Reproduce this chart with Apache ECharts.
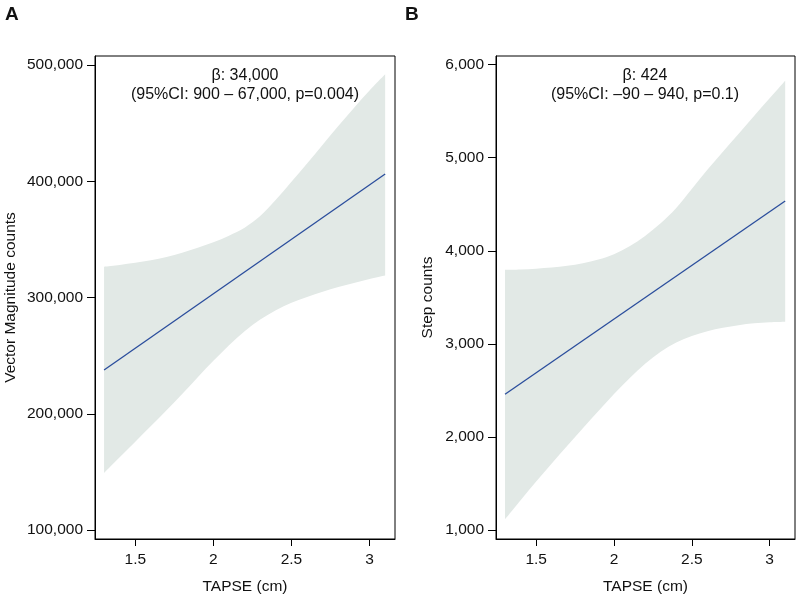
<!DOCTYPE html>
<html>
<head>
<meta charset="utf-8">
<script src="https://cdn.jsdelivr.net/npm/echarts@6/dist/echarts.min.js"></script>
<style>html,body{margin:0;padding:0;background:#fff}#c{width:796px;height:594px}</style>
</head>
<body>
<div id="c"></div>
<script>
// ---- Data ----
const xGrid = [1.3,1.4,1.5,1.6,1.7,1.8,1.9,2.0,2.1,2.2,2.3,2.4,2.5,2.6,2.7,2.8,2.9,3.0,3.1];

// Panel A: Vector Magnitude counts
const upperA = [326500,328000,329800,332000,334800,338500,342800,347500,353200,360000,370000,384000,399500,415300,431500,447500,463000,478000,492000];
const lowerA = [149000,162500,176000,189500,203000,217000,231500,245500,259000,271000,281000,289000,295500,300500,305000,309000,312500,316000,319000];
const lineXA = [1.3, 3.1];
const lineYA = [237600, 406200];

// Panel B: Step counts
const upperB = [3795,3800,3808,3820,3838,3865,3905,3962,4048,4160,4295,4460,4665,4870,5065,5255,5447,5638,5828];
const lowerB = [1115,1320,1520,1715,1905,2093,2278,2460,2630,2785,2915,3015,3085,3135,3172,3200,3220,3232,3238];
const lineXB = [1.3, 3.1];
const lineYB = [2458, 4535];

const xTicks = [1.5, 2, 2.5, 3];
const yTicksA = [100000, 200000, 300000, 400000, 500000];
const yTicksB = [1000, 2000, 3000, 4000, 5000, 6000];

const annotA = ['β: 34,000', '(95%CI: 900 – 67,000, p=0.004)'];
const annotB = ['β: 424', '(95%CI: –90 – 940, p=0.1)'];

// ---- Chart ----
const FONT = '"Liberation Sans", Arial, Helvetica, sans-serif';
const BAND = '#e2e9e6';
const LINE = '#2a4d9c';
const TXT = '#111';
const fmt = v => Number(v).toLocaleString('en-US');

function bandData(up, lo) { return xGrid.map((x, i) => [x, lo[i], up[i]]); }

// Catmull-Rom through pixel points -> cubic bezier path commands
function smoothSeg(pts) {
  let d = '';
  const n = pts.length;
  for (let i = 0; i < n - 1; i++) {
    const p0 = pts[Math.max(0, i - 1)], p1 = pts[i], p2 = pts[i + 1], p3 = pts[Math.min(n - 1, i + 2)];
    const c1 = [p1[0] + (p2[0] - p0[0]) / 6, p1[1] + (p2[1] - p0[1]) / 6];
    const c2 = [p2[0] - (p3[0] - p1[0]) / 6, p2[1] - (p3[1] - p1[1]) / 6];
    d += ' C' + c1[0] + ' ' + c1[1] + ' ' + c2[0] + ' ' + c2[1] + ' ' + p2[0] + ' ' + p2[1];
  }
  return d;
}

function bandRender(up, lo) {
  return function (params, api) {
    if (params.dataIndex !== 0) return null;
    const top = xGrid.map((x, i) => api.coord([x, up[i]]));
    const bot = xGrid.map((x, i) => api.coord([x, lo[i]])).reverse();
    let d = 'M' + top[0][0] + ' ' + top[0][1] + smoothSeg(top);
    d += ' L' + bot[0][0] + ' ' + bot[0][1] + smoothSeg(bot) + ' Z';
    return { type: 'path', shape: { pathData: d }, style: { fill: BAND, stroke: null } };
  };
}

function xAxisCfg(gi) {
  return {
    type: 'value', gridIndex: gi, min: 1.242, max: 3.163,
    name: 'TAPSE (cm)', nameLocation: 'middle', nameGap: 40,
    nameTextStyle: { fontFamily: FONT, fontSize: 15.5, color: TXT },
    axisLine: { show: true, onZero: false, lineStyle: { color: '#000', width: 1 } },
    axisTick: { show: true, length: 7, customValues: xTicks, lineStyle: { color: '#000' } },
    axisLabel: { customValues: xTicks, fontFamily: FONT, fontSize: 15.5, color: TXT, margin: 13, formatter: v => String(v) },
    splitLine: { show: false }
  };
}

function yAxisCfg(gi, min, max, ticks, name, gap) {
  return {
    type: 'value', gridIndex: gi, min: min, max: max,
    name: name, nameLocation: 'middle', nameGap: gap,
    nameTextStyle: { fontFamily: FONT, fontSize: 15.5, color: TXT },
    axisLine: { show: true, onZero: false, lineStyle: { color: '#000', width: 1 } },
    axisTick: { show: true, length: 8, customValues: ticks, lineStyle: { color: '#000' } },
    axisLabel: { customValues: ticks, fontFamily: FONT, fontSize: 15.5, color: TXT, margin: 12, formatter: fmt },
    splitLine: { show: false }
  };
}

function textEl(txt, x, y, size, weight) {
  return { type: 'text', left: x, top: y, style: { text: txt, fontFamily: FONT, fontSize: size, fontWeight: weight || 'normal', fill: TXT } };
}
function centerText(txt, cx, y) {
  return { type: 'text', x: cx, y: y, style: { text: txt, fontFamily: FONT, fontSize: 16, fill: TXT, align: 'center', verticalAlign: 'middle' } };
}

const chart = echarts.init(document.getElementById('c'), null, { renderer: 'canvas' });
chart.setOption({
  animation: false,
  backgroundColor: '#fff',
  grid: [
    { left: 95, right: 401, top: 56, bottom: 55, show: true, borderColor: '#000', borderWidth: 1, backgroundColor: 'transparent', outerBoundsMode: 'none', containLabel: false },
    { left: 496, right: 1, top: 56, bottom: 55, show: true, borderColor: '#000', borderWidth: 1, backgroundColor: 'transparent', outerBoundsMode: 'none', containLabel: false }
  ],
  xAxis: [xAxisCfg(0), xAxisCfg(1)],
  yAxis: [
    yAxisCfg(0, 92260, 507740, yTicksA, 'Vector Magnitude counts', 76),
    yAxisCfg(1, 903, 6093, yTicksB, 'Step counts', 60)
  ],
  series: [
    { type: 'custom', xAxisIndex: 0, yAxisIndex: 0, data: bandData(upperA, lowerA), encode: { x: 0, y: [1, 2] }, renderItem: bandRender(upperA, lowerA), z: 1, silent: true },
    { type: 'line', xAxisIndex: 0, yAxisIndex: 0, data: lineXA.map((x, i) => [x, lineYA[i]]), symbol: 'none', lineStyle: { color: LINE, width: 1.3 }, z: 2 },
    { type: 'custom', xAxisIndex: 1, yAxisIndex: 1, data: bandData(upperB, lowerB), encode: { x: 0, y: [1, 2] }, renderItem: bandRender(upperB, lowerB), z: 1, silent: true },
    { type: 'line', xAxisIndex: 1, yAxisIndex: 1, data: lineXB.map((x, i) => [x, lineYB[i]]), symbol: 'none', lineStyle: { color: LINE, width: 1.3 }, z: 2 }
  ],
  graphic: [
    textEl('A', 5, 5, 19, 'bold'),
    textEl('B', 405, 5, 19, 'bold'),
    centerText(annotA[0], 245, 76),
    centerText(annotA[1], 245, 95),
    centerText(annotB[0], 645, 76),
    centerText(annotB[1], 645, 95)
  ]
});
</script>
</body>
</html>
